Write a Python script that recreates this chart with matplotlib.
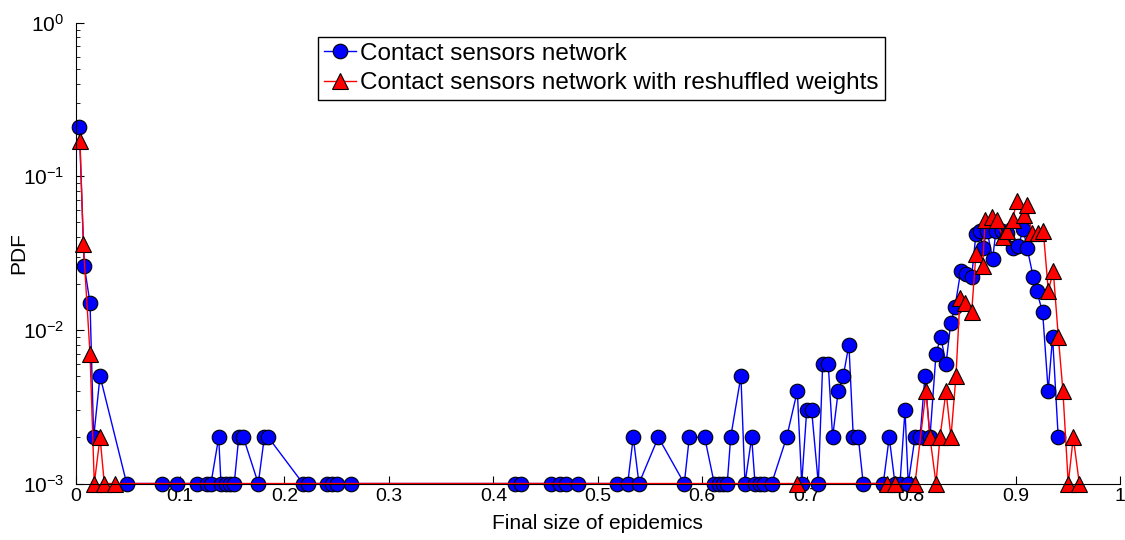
import matplotlib
matplotlib.use("Agg")
import matplotlib.pyplot as plt
from matplotlib.ticker import LogLocator, LogFormatterMathtext, NullFormatter

plt.rcParams["font.family"] = ["Liberation Sans", "DejaVu Sans"]
plt.rcParams["mathtext.fontset"] = "custom"
plt.rcParams["mathtext.rm"] = "Liberation Sans"
plt.rcParams["mathtext.it"] = "Liberation Sans:italic"
plt.rcParams["mathtext.default"] = "regular"

# contact sensors network (blue circles)
blue_x = [0.0035, 0.0083, 0.0138, 0.0173, 0.0234, 0.0489, 0.0827, 0.0974, 0.1165, 0.1255,
          0.1296, 0.1370, 0.1392, 0.1440, 0.1478, 0.1519, 0.1562, 0.1606, 0.1749, 0.1807,
          0.1845, 0.2177, 0.2225, 0.2404, 0.2452, 0.2500, 0.2637, 0.4207, 0.4261, 0.4551,
          0.4638, 0.4692, 0.4807, 0.5180, 0.5286, 0.5339, 0.5394, 0.5579, 0.5828, 0.5876,
          0.6023, 0.6115, 0.6160, 0.6201, 0.6239, 0.6272, 0.6370, 0.6409, 0.6473, 0.6505,
          0.6552, 0.6591, 0.6664, 0.6808, 0.6910, 0.6952, 0.7000, 0.7047, 0.7111, 0.7153,
          0.7206, 0.7248, 0.7302, 0.7350, 0.7404, 0.7446, 0.7494, 0.7541, 0.7733, 0.7790,
          0.7845, 0.7893, 0.7941, 0.7972, 0.8037, 0.8085, 0.8132, 0.8180, 0.8238, 0.8283,
          0.8334, 0.8378, 0.8419, 0.8474, 0.8525, 0.8579, 0.8620, 0.8659, 0.8685, 0.8727,
          0.8780, 0.8812, 0.8870, 0.8917, 0.8972, 0.9025, 0.9073, 0.9111, 0.9169, 0.9201,
          0.9259, 0.9312, 0.9354, 0.9408]
blue_y = [0.21, 0.026, 0.015, 0.002, 0.005, 0.001, 0.001, 0.001, 0.001, 0.001,
          0.001, 0.002, 0.001, 0.001, 0.001, 0.001, 0.002, 0.002, 0.001, 0.002,
          0.002, 0.001, 0.001, 0.001, 0.001, 0.001, 0.001, 0.001, 0.001, 0.001,
          0.001, 0.001, 0.001, 0.001, 0.001, 0.002, 0.001, 0.002, 0.001, 0.002,
          0.002, 0.001, 0.001, 0.001, 0.001, 0.002, 0.005, 0.001, 0.002, 0.001,
          0.001, 0.001, 0.001, 0.002, 0.004, 0.001, 0.003, 0.003, 0.001, 0.006,
          0.006, 0.002, 0.004, 0.005, 0.008, 0.002, 0.002, 0.001, 0.001, 0.002,
          0.001, 0.001, 0.003, 0.001, 0.002, 0.002, 0.005, 0.002, 0.007, 0.009,
          0.006, 0.011, 0.014, 0.024, 0.023, 0.022, 0.042, 0.044, 0.034, 0.044,
          0.029, 0.044, 0.044, 0.043, 0.034, 0.035, 0.045, 0.034, 0.022, 0.018,
          0.013, 0.004, 0.009, 0.002]

# reshuffled weights (red triangles)
red_x = [0.0042, 0.0074, 0.0138, 0.0179, 0.0234, 0.0275, 0.0377, 0.6904, 0.7766, 0.7845,
         0.8037, 0.8142, 0.8180, 0.8238, 0.8276, 0.8334, 0.8381, 0.8429, 0.8467, 0.8515,
         0.8579, 0.8620, 0.8685, 0.8708, 0.8771, 0.8819, 0.8876, 0.8914, 0.8972, 0.9010,
         0.9080, 0.9111, 0.9153, 0.9216, 0.9265, 0.9313, 0.9361, 0.9409, 0.9453, 0.9504,
         0.9552, 0.9610]
red_y = [0.17, 0.036, 0.007, 0.001, 0.002, 0.001, 0.001, 0.001, 0.001, 0.001,
         0.001, 0.004, 0.002, 0.001, 0.002, 0.004, 0.002, 0.005, 0.016, 0.015,
         0.013, 0.031, 0.026, 0.052, 0.054, 0.052, 0.040, 0.044, 0.052, 0.069,
         0.056, 0.065, 0.043, 0.043, 0.044, 0.018, 0.024, 0.009, 0.004, 0.001,
         0.002, 0.001]

x_ticks = [0, 0.1, 0.2, 0.3, 0.4, 0.5, 0.6, 0.7, 0.8, 0.9, 1]
x_tick_labels = ["0", "0.1", "0.2", "0.3", "0.4", "0.5", "0.6", "0.7", "0.8", "0.9", "1"]

fig = plt.figure(figsize=(11.25, 5.4), dpi=100)
ax = fig.add_axes([0.0672, 0.1046, 0.9284, 0.8537])

ax.plot(blue_x, blue_y, "-o", color="#0000ff", lw=1.0, ms=10.5,
        mfc="#0000ff", mec="black", mew=0.8, clip_on=False,
        label="Contact sensors network")
ax.plot(red_x, red_y, "-^", color="#ff0000", lw=1.0, ms=11,
        mfc="#ff0000", mec="black", mew=0.8, clip_on=False,
        label="Contact sensors network with reshuffled weights")

ax.set_yscale("log")
ax.set_ylim(1e-3, 1)
ax.set_xlim(0, 1)
ax.set_xticks(x_ticks)
ax.set_xticklabels(x_tick_labels)
ax.yaxis.set_major_locator(LogLocator(base=10, numticks=10))
ax.yaxis.set_major_formatter(LogFormatterMathtext())
ax.yaxis.set_minor_locator(LogLocator(base=10, subs=range(2, 10), numticks=20))
ax.yaxis.set_minor_formatter(NullFormatter())

ax.tick_params(which="both", direction="in", labelsize=14, top=False, right=False)
ax.tick_params(axis="y", labelsize=15, pad=8)
ax.tick_params(which="major", length=6)
ax.tick_params(which="minor", length=3)
ax.spines["top"].set_visible(False)
ax.spines["right"].set_visible(False)

ax.set_xlabel("Final size of epidemics", fontsize=15, labelpad=6)
ax.set_ylabel("PDF", fontsize=15, labelpad=-4)

leg = ax.legend(loc="upper left", bbox_to_anchor=(0.232, 0.969), fontsize=17.5,
                fancybox=False, edgecolor="black", framealpha=1,
                handlelength=1.3, handletextpad=0.2, borderpad=0.25,
                labelspacing=0.3, borderaxespad=0)
leg.get_frame().set_linewidth(1.0)

fig.savefig("out.png", dpi=100, facecolor="white")
